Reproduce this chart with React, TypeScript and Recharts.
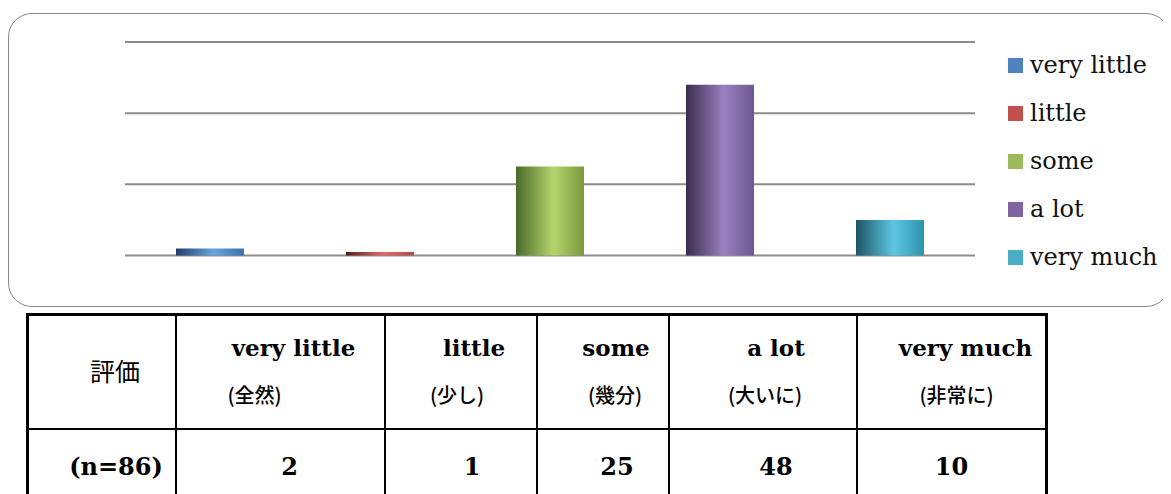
import React from 'react';
import { BarChart, Bar, XAxis, YAxis, CartesianGrid, Legend } from 'recharts';

const categories = ['very little', 'little', 'some', 'a lot', 'very much'];
const jpLabels = ['(全然)', '(少し)', '(幾分)', '(大いに)', '(非常に)'];
const values = [2, 1, 25, 48, 10];
const yTicks = [0, 20, 40, 60];
const headerLabel = '評価';
const sampleLabel = '(n=86)';
const legendColors = ['#4f81bd', '#c0504d', '#9bbb59', '#8064a2', '#4bacc6'];
const gradStops = [
  ['#1f3e66', '#6aa5e0', '#3a70b0'],
  ['#5a1c1c', '#e66a6a', '#b04a4a'],
  ['#4a6a2a', '#b5d56c', '#7a9a3e'],
  ['#3a2c4e', '#9a80c0', '#6c5890'],
  ['#1c5466', '#5ec6e2', '#2f93ad'],
];

const data = categories.map((c, i) => ({ name: c, [c]: values[i] }));

const colWidths = [148, 209, 152, 132, 188, 190];
const enShift = [13, 13, 13, 13, 14];
const jpShift = [-26, -4, 12, 2, 5];
const numShift = [9, 11, 14, 13, 0];

const serif = '"DejaVu Serif", serif';
const cjk = '"Noto Sans CJK JP", sans-serif';

const renderLegend = () => (
  <div style={{ fontFamily: serif, fontSize: 24, color: '#111' }}>
    {categories.map((c, i) => (
      <div key={c} style={{ display: 'flex', alignItems: 'center', height: 48 }}>
        <span style={{ display: 'inline-block', width: 15, height: 15, background: legendColors[i], marginRight: 7 }} />
        <span>{c}</span>
      </div>
    ))}
  </div>
);

const shiftBox = (s: number): React.CSSProperties =>
  s >= 0 ? { left: s * 2, right: 0 } : { left: 0, right: -s * 2 };

export default function App() {
  const cellBase: React.CSSProperties = {
    position: 'relative',
    borderRight: '2px solid #000',
    borderBottom: '2px solid #000',
    boxSizing: 'border-box',
  };
  return (
    <div style={{ position: 'relative', width: 1163, height: 486 }}>
      <div style={{ position: 'absolute', left: 0, top: 5, width: 1162, height: 294 }}>
        <BarChart
          width={1162}
          height={294}
          data={data}
          margin={{ top: 29, right: 35, bottom: 51.5, left: 117 }}
          barCategoryGap="30%"
        >
          <defs>
            {gradStops.map((s, i) => (
              <linearGradient key={i} id={`cyl${i}`} x1="0" y1="0" x2="1" y2="0">
                <stop offset="0%" stopColor={s[0]} />
                <stop offset="55%" stopColor={s[1]} />
                <stop offset="100%" stopColor={s[2]} />
              </linearGradient>
            ))}
          </defs>
          <CartesianGrid vertical={false} horizontal stroke="#8c8c8c" strokeWidth={2} />
          <XAxis dataKey="name" hide />
          <YAxis hide domain={[0, 60]} ticks={yTicks} />
          <Legend
            layout="vertical"
            align="right"
            verticalAlign="top"
            content={renderLegend}
            wrapperStyle={{ left: 1000, top: 28, right: 'auto', width: 160 }}
          />
          {categories.map((c, i) => (
            <Bar key={c} dataKey={c} stackId="s" fill={`url(#cyl${i})`} isAnimationActive={false} />
          ))}
        </BarChart>
        <div
          style={{
            position: 'absolute',
            left: 0,
            top: 0,
            width: 1162,
            height: 294,
            boxSizing: 'border-box',
            border: '1.5px solid #8a8a8a',
            borderRadius: 24,
            pointerEvents: 'none',
          }}
        />
      </div>

      <div
        style={{
          position: 'absolute',
          left: 18,
          top: 305,
          display: 'grid',
          gridTemplateColumns: colWidths.map((w) => `${w}px`).join(' '),
          gridTemplateRows: '114px 90px',
          borderTop: '3px solid #000',
          borderLeft: '3px solid #000',
          color: '#000',
        }}
      >
        <div style={cellBase}>
          <div style={{ position: 'absolute', left: 26, right: 0, top: 39, textAlign: 'center', fontFamily: cjk, fontSize: 25, lineHeight: '30px' }}>
            {headerLabel}
          </div>
        </div>
        {categories.map((c, i) => (
          <div key={c} style={{ ...cellBase, borderRight: i === 4 ? '3px solid #000' : cellBase.borderRight }}>
            <div style={{ position: 'absolute', ...shiftBox(enShift[i]), top: 17, textAlign: 'center', fontFamily: serif, fontWeight: 'bold', fontSize: 23, lineHeight: '30px' }}>
              {c}
            </div>
            <div style={{ position: 'absolute', ...shiftBox(jpShift[i]), top: 67, textAlign: 'center', fontFamily: cjk, fontWeight: 500, fontSize: 20, lineHeight: '24px' }}>
              {jpLabels[i]}
            </div>
          </div>
        ))}
        <div style={cellBase}>
          <div style={{ position: 'absolute', left: 28, right: 0, top: 22, textAlign: 'center', fontFamily: serif, fontWeight: 'bold', fontSize: 24, lineHeight: '30px' }}>
            {sampleLabel}
          </div>
        </div>
        {values.map((v, i) => (
          <div key={i} style={{ ...cellBase, borderRight: i === 4 ? '3px solid #000' : cellBase.borderRight }}>
            <div style={{ position: 'absolute', ...shiftBox(numShift[i]), top: 22, textAlign: 'center', fontFamily: serif, fontWeight: 'bold', fontSize: 24, lineHeight: '30px' }}>
              {v}
            </div>
          </div>
        ))}
      </div>
    </div>
  );
}
